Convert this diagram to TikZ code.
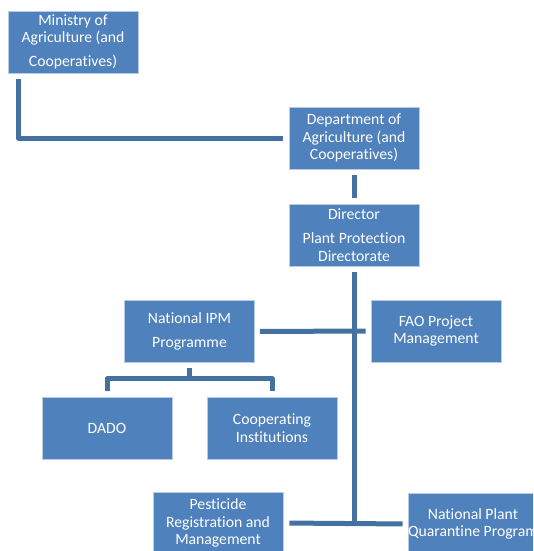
\documentclass[tikz,border=0pt]{standalone}
\usepackage{fontspec}
\setmainfont[Ligatures=NoCommon]{Carlito}
\usepackage{tikz}
\usetikzlibrary{calc}
\definecolor{boxfill}{HTML}{4F81BD}
\definecolor{boxedge}{HTML}{B9CCE4}
\definecolor{link}{HTML}{44719F}

\begin{document}
\begin{tikzpicture}[x=1pt,y=-1pt,
    orgbox/.style={draw=boxedge,line width=0.6pt,fill=boxfill,text=white,
      minimum width=130pt,minimum height=62pt,inner sep=0pt,align=center,
      font=\fontsize{15.7}{17.5}\selectfont},
    connector/.style={draw=link,line width=5pt,line join=round}]
  \useasboundingbox (0,0) rectangle (533,551);
  \clip (0,0) rectangle (533,551);

  \node[orgbox] (min) at (73,42) {Ministry of\\Agriculture (and\\[6.5pt]Cooperatives)};
  \node[orgbox] (dept) at (354,138) {Department of\\Agriculture (and\\Cooperatives)};
  \node[orgbox] (dir) at (354,235) {Director\\[6.5pt]Plant Protection\\Directorate};
  \node[orgbox] (ipm) at (189.5,331.5) {National IPM\\[6.5pt]Programme};
  \node[orgbox] (fao) at (436,331) {FAO Project\\Management};
  \node[orgbox] (dado) at (107,428) {DADO};
  \node[orgbox] (coop) at (272,428) {Cooperating\\Institutions};
  \node[orgbox] (pest) at (218,523) {Pesticide\\Registration and\\Management};
  \node[orgbox] (npq) at (473,524) {National Plant\\Quarantine Program};

  \coordinate (fork) at ($(ipm.south)+(0,16)$);

  \draw[connector,shorten <=6pt,shorten >=6pt]
    ($(min.south west)+(11,0)$) |- (dept.west);
  \draw[connector,shorten <=6pt,shorten >=6pt] (dept.south) -- (dir.north);
  \draw[connector,shorten <=6pt] (dir.south) -- (dir.south |- pest.east);
  \draw[connector,shorten <=5pt,shorten >=5pt] (ipm.east) -- (fao.west);
  \draw[connector,shorten <=6pt,shorten >=5pt] (pest.east) -- (npq.west);
  \draw[connector,shorten <=5pt] (ipm.south) -- (fork);
  \draw[connector,shorten <=6pt,shorten >=6pt] (dado.north) |- (fork) -| (coop.north);
\end{tikzpicture}
\end{document}
